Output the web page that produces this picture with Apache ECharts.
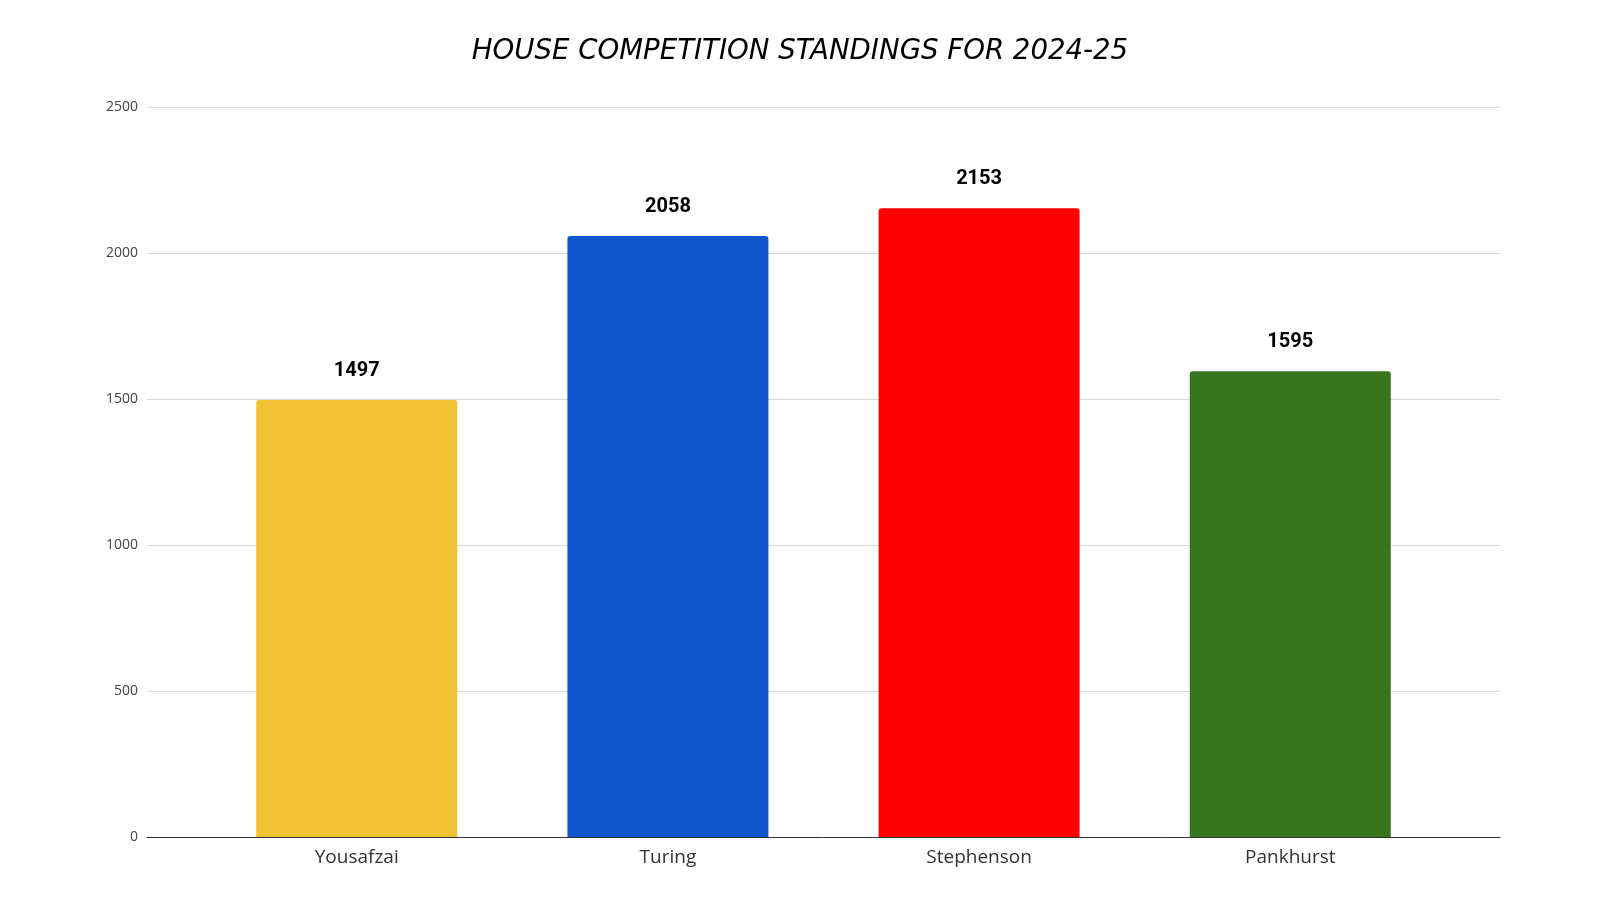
<!DOCTYPE html>
<html><head><meta charset="utf-8">
<script src="https://cdn.jsdelivr.net/npm/echarts@6/dist/echarts.min.js"></script>
<style>html,body{margin:0;padding:0;background:#fff}#c{width:1600px;height:900px}</style>
</head><body><div id="c"></div>
<script>
const categories = ["Yousafzai", "Turing", "Stephenson", "Pankhurst"];
const points = [1497, 2058, 2153, 1595];
const barColors = ["#F1C232", "#1155CC", "#FF0000", "#38761D"];
const yTicks = { min: 0, max: 2500, interval: 500 };

const chart = echarts.init(document.getElementById('c'));
chart.setOption({
  animation: false,
  backgroundColor: '#ffffff',
  title: {
    text: 'HOUSE COMPETITION STANDINGS FOR 2024-25',
    left: 'center', top: 33,
    textStyle: { fontFamily: 'DejaVu Sans', fontStyle: 'italic', fontWeight: 'normal', fontSize: 27.6, color: '#000' }
  },
  grid: { left: 147, right: 100, top: 107, bottom: 63 },
  xAxis: {
    type: 'value', min: -0.674, max: categories.length - 1 + 0.674,
    splitLine: { show: false },
    axisLine: { show: true, onZero: true, lineStyle: { color: '#333', width: 1 } },
    axisTick: { show: false },
    axisLabel: {
      customValues: categories.map((c, i) => i),
      formatter: v => categories[Math.round(v)] || '',
      fontFamily: 'Open Sans', fontSize: 19, color: '#333', margin: 11
    }
  },
  yAxis: {
    type: 'value', min: yTicks.min, max: yTicks.max, interval: yTicks.interval,
    axisLine: { show: false }, axisTick: { show: false },
    splitLine: { lineStyle: { color: '#d9d9d9', width: 1 } },
    axisLabel: { fontFamily: 'Open Sans', fontSize: 14, color: '#444', margin: 9, formatter: v => String(v) }
  },
  series: [{
    type: 'bar',
    barWidth: 201,
    data: points.map((v, i) => ({ value: [i, v], itemStyle: { color: barColors[i] } })),
    itemStyle: { borderRadius: [3, 3, 0, 0] },
    label: { show: true, position: 'top', distance: 19, fontFamily: 'Roboto', fontWeight: 'bold', fontSize: 20, color: '#000', formatter: p => String(p.value[1]) }
  }]
});
</script></body></html>
